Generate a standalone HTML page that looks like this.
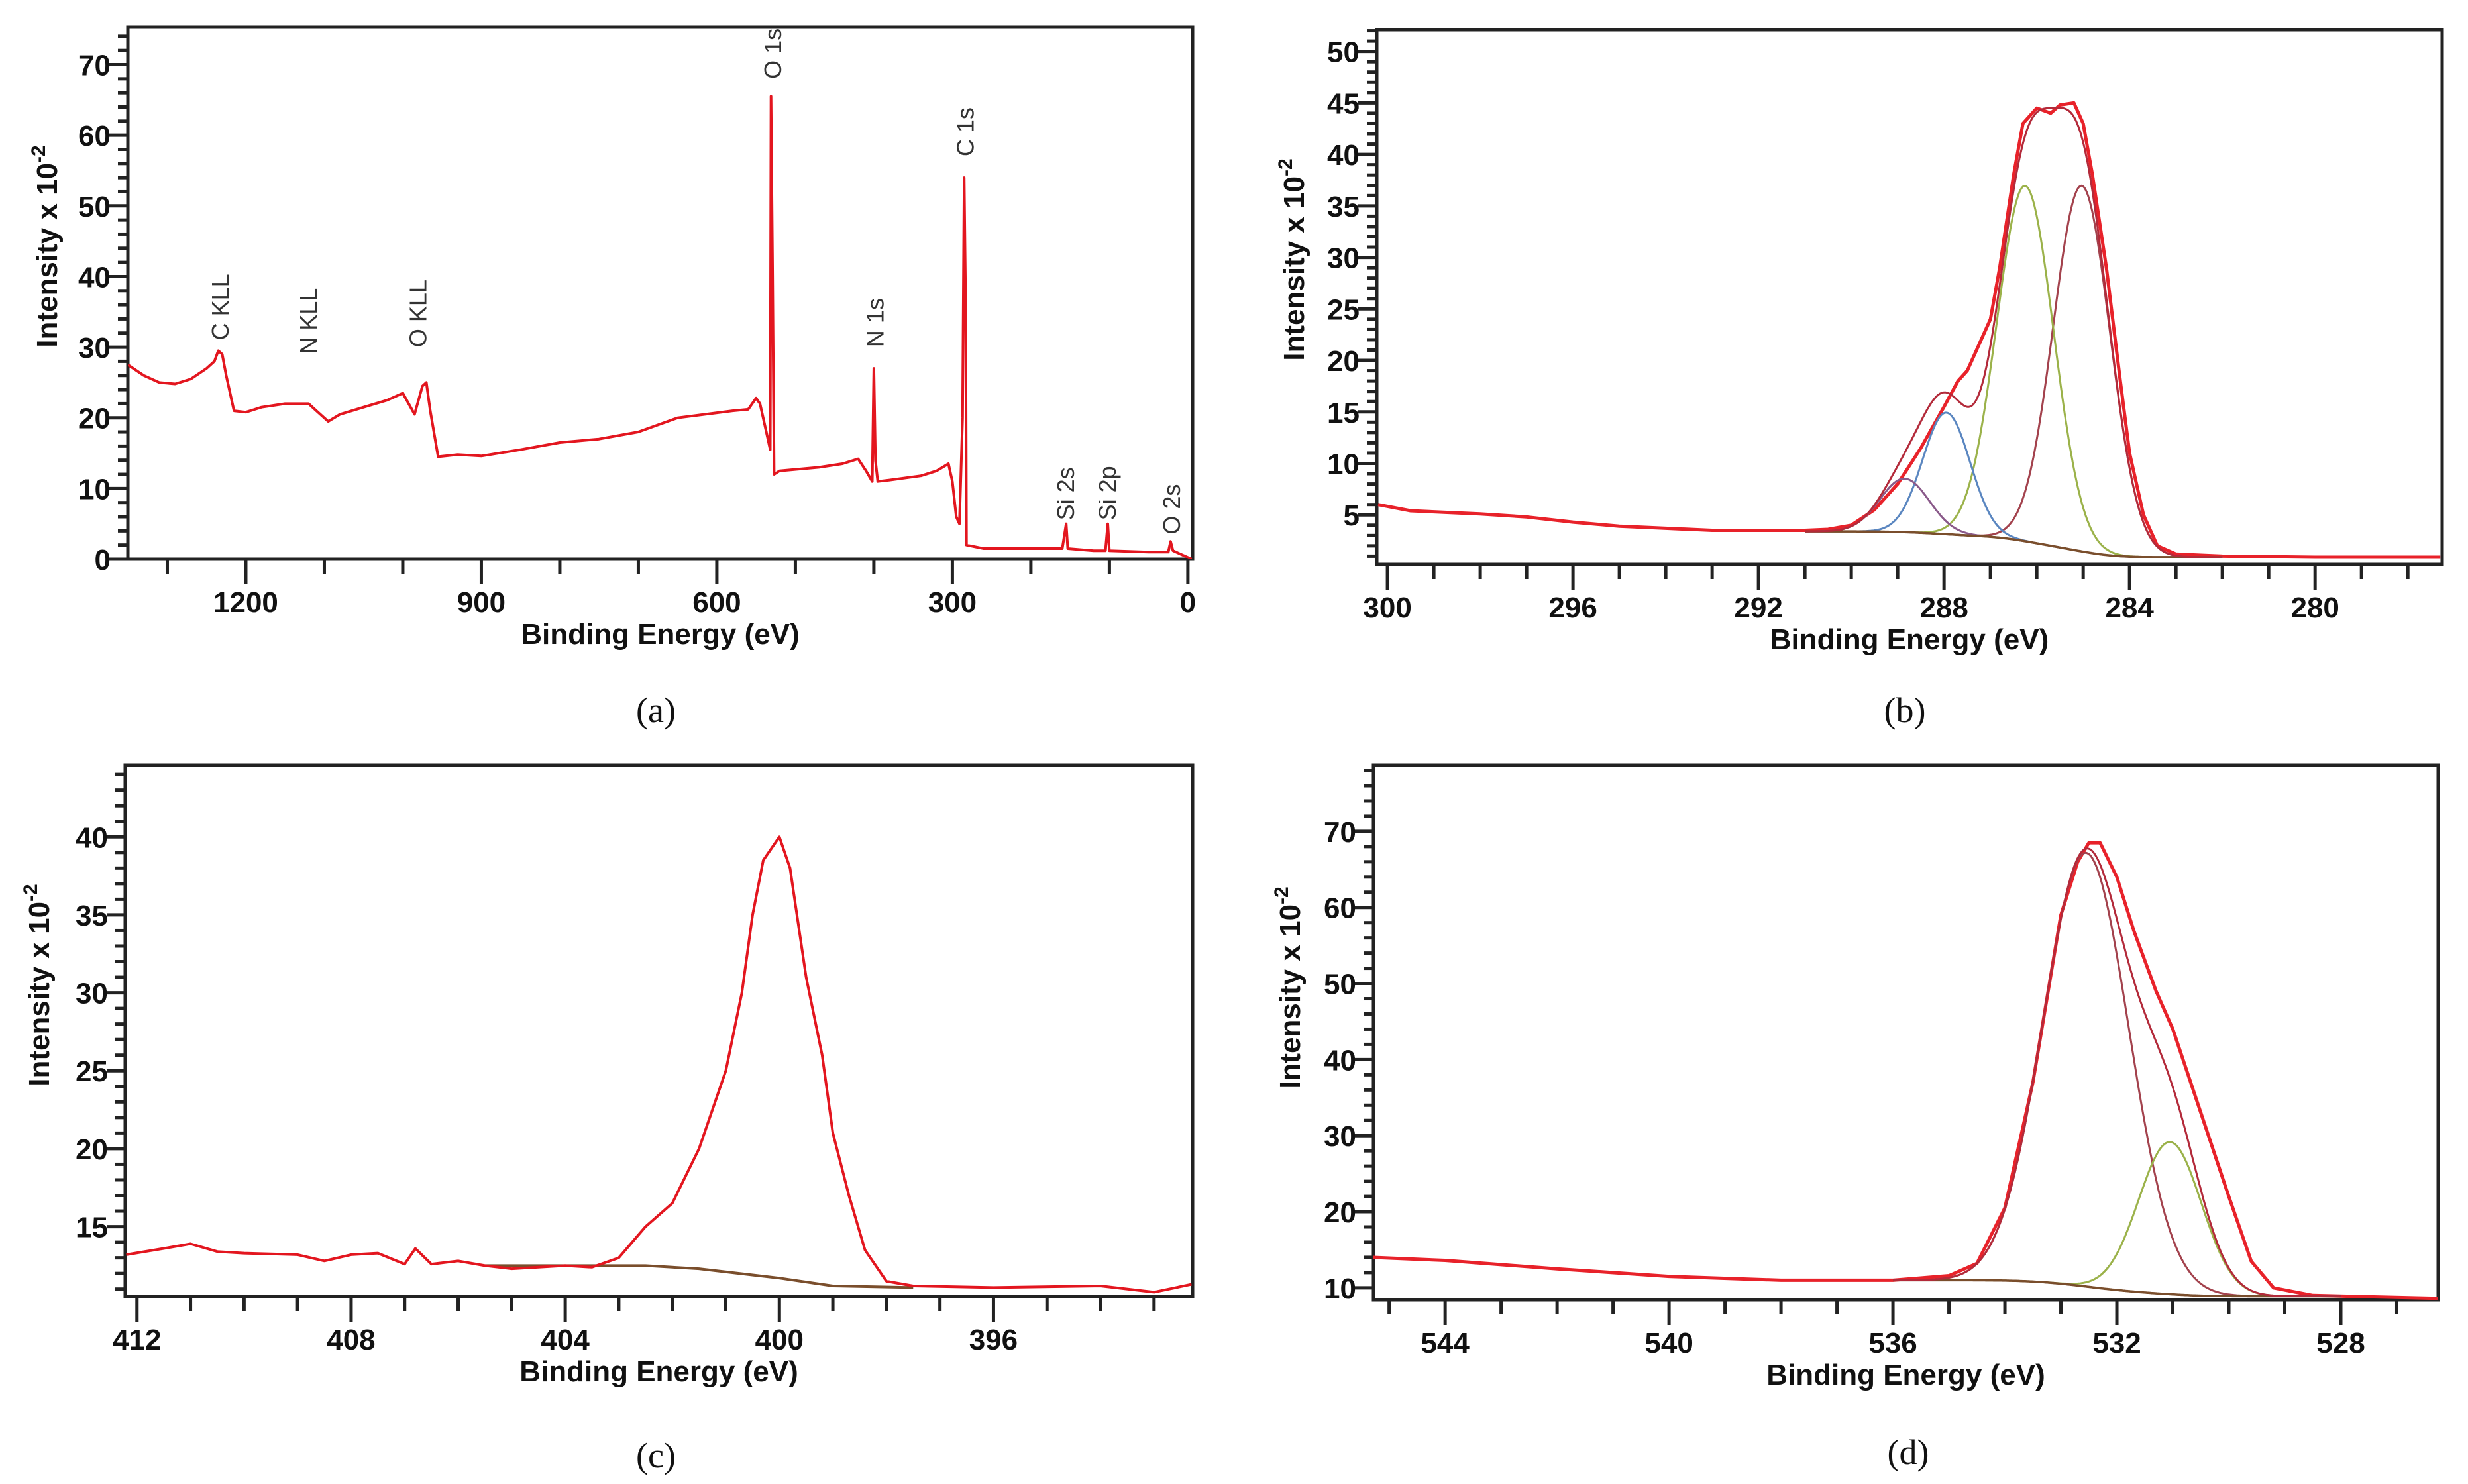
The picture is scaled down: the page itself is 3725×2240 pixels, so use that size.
<!DOCTYPE html>
<html><head><meta charset="utf-8">
<style>
html,body{margin:0;padding:0;background:#fff;}
svg{display:block;}
.tk{font-family:"Liberation Sans",Arial,sans-serif;font-weight:bold;font-size:44px;fill:#111;}
.tt{font-family:"Liberation Sans",Arial,sans-serif;font-weight:bold;font-size:44px;fill:#111;}
.an{font-family:"Liberation Sans",Arial,sans-serif;font-size:36px;fill:#333;}
.cap{font-family:"Liberation Serif","Times New Roman",serif;font-size:54px;fill:#111;}
</style></head>
<body>
<svg id="fig" width="3725" height="2240" viewBox="0 0 3725 2240" xmlns="http://www.w3.org/2000/svg"></svg>
<script>
// ===== Panel (a) survey spectrum data =====
const surveyBE = [1350,1330,1310,1290,1270,1250,1240,1235,1230,1225,1215,1200,1180,1150,1120,1110,1095,1080,1050,1020,1000,995,985,975,970,965,955,930,900,850,800,750,700,650,580,560,550,545,535,532,531,529,527,520,470,440,420,410,402,400,398,395,380,340,320,305,300,295,291,287,285,283,282,260,200,160,155,153,120,105,102,100,50,25,22,19,5,-5];
const surveyI  = [27.5,26,25,24.8,25.5,27,28,29.5,29,26,21,20.8,21.5,22,22,21,19.5,20.5,21.5,22.5,23.5,22.5,20.5,24.5,25,21,14.5,14.8,14.6,15.5,16.5,17,18,20,21,21.2,22.8,22,17,15.5,65.5,40,12,12.5,13,13.5,14.2,12.5,11,27,14,11,11.2,11.8,12.5,13.5,11,6,5,20,54,35,2,1.5,1.5,1.5,5,1.5,1.2,1.2,5,1.2,1,1,2.5,1.2,0.5,0];
const surveyLabels = ["C KLL","N KLL","O KLL","O 1s","N 1s","C 1s","Si 2s","Si 2p","O 2s"];
const surveyLabelBE = [1232,1120,980,528,398,283,155,102,20];
const surveyLabelI  = [31,29,30,68,30,57,5.5,5.5,3.5];

// ===== Panel (b) C 1s =====
const c1sBE = [300.2,299.5,298,297,296,295,294,293,292,291,290.5,290,289.5,289,288.5,288,287.7,287.5,287,286.8,286.5,286.3,286,285.7,285.5,285.2,285,284.8,284.5,284.2,284,283.7,283.4,283,282,280,277.3];
const c1sI  = [6,5.4,5.1,4.8,4.3,3.9,3.7,3.5,3.5,3.5,3.6,4,5.5,8,11.5,15.5,18,19,24,29,38,43,44.5,44,44.8,45,43,38,29,18,11,5,2,1.2,1,0.9,0.9];
const c1sCenters = [285.03,286.25,287.95,288.85];
const c1sHeights = [35.5,34.5,11.8,5.2];
const c1sFwhm    = [1.44,1.44,1.2,1.25];
const c1sBgHigh = 3.4, c1sBgLow = 0.9;

// ===== Panel (c) N 1s =====
const n1sBE = [412.2,411.5,411,410.5,410,409,408.5,408,407.5,407,406.8,406.5,406,405.5,405,404.5,404,403.5,403,402.5,402,401.5,401,400.7,400.5,400.3,400,399.8,399.5,399.2,399,398.7,398.4,398,397.5,396,394,393,392.3];
const n1sI  = [13.2,13.6,13.9,13.4,13.3,13.2,12.8,13.2,13.3,12.6,13.6,12.6,12.8,12.5,12.3,12.4,12.5,12.4,13,15,16.5,20,25,30,35,38.5,40,38,31,26,21,17,13.5,11.5,11.2,11.1,11.2,10.8,11.3];
const n1sBgBE = [405.5,402.5,401.5,400,399,397.5];
const n1sBgI  = [12.5,12.5,12.3,11.7,11.2,11.1];

// ===== Panel (d) O 1s =====
const o1sBE = [545.3,544,542,540,538,536,535,534.5,534,533.5,533,532.7,532.5,532.3,532,531.7,531.3,531,530.5,530,529.6,529.2,528.5,526.2];
const o1sI  = [14,13.6,12.5,11.5,11,11,11.6,13.2,20.5,37,59,66,68.5,68.5,64,57,49,44,33,22,13.5,10,9,8.6];
const o1sCenters = [532.55,531.05];
const o1sHeights = [57,20];
const o1sFwhm    = [1.8,1.32];
const o1sBgHigh = 11, o1sBgLow = 8.9;

const NS = "http://www.w3.org/2000/svg";
const fig = document.getElementById('fig');
function mk(tag, attrs, parent){ const e=document.createElementNS(NS,tag); for(const k in attrs) e.setAttribute(k,attrs[k]); (parent||fig).appendChild(e); return e; }

function makeAxes(p){
  const sx = v => p.L + (p.x0 - v)/(p.x0 - p.x1)*(p.R - p.L);
  const sy = v => p.B - (v - p.y0)/(p.y1 - p.y0)*(p.B - p.T);
  return {sx, sy};
}

function drawFrame(p, g){
  const {sx, sy} = makeAxes(p);
  const box = mk('rect',{x:p.L,y:p.T,width:p.R-p.L,height:p.B-p.T,fill:'none',stroke:'#222','stroke-width':5},g);
  
  
  const yStart = Math.ceil(p.y0/p.yMinor)*p.yMinor;
  for(let v=yStart; v<=p.y1+1e-9; v+=p.yMinor){
    const vv = Math.round(v*1000)/1000;
    const major = Math.abs(vv/p.yMajor - Math.round(vv/p.yMajor))<1e-6 && vv>=p.yLabelMin;
    const y = sy(vv);
    const t = mk('line',{x1:p.L,x2:p.L-(major?28:15),y1:y,y2:y,stroke:'#222','stroke-width':5},g);
    
    
    if(major){
      const tx = mk('text',{x:p.L-26,y:y+16,'text-anchor':'end',class:'tk'},g);
      tx.textContent = vv;
      
      
    }
  }
  const lo = Math.min(p.x0,p.x1), hi = Math.max(p.x0,p.x1);
  for(let v=Math.ceil(lo/p.xMinor)*p.xMinor; v<=hi+1e-9; v+=p.xMinor){
    const vv = Math.round(v*1000)/1000;
    const major = Math.abs(vv/p.xMajor - Math.round(vv/p.xMajor))<1e-6;
    const x = sx(vv);
    const t = mk('line',{x1:x,x2:x,y1:p.B,y2:p.B+(major?38:22),stroke:'#222','stroke-width':5},g);
    
    
    if(major){
      const tx = mk('text',{x:x,y:p.B+80,'text-anchor':'middle',class:'tk'},g);
      tx.textContent = vv;
      
      
    }
  }
  const xt = mk('text',{x:(p.L+p.R)/2,y:p.B+128,'text-anchor':'middle',class:'tt'},g);
  xt.textContent = 'Binding Energy (eV)';
  
  
  const yt = mk('text',{x:0,y:0,'text-anchor':'middle',class:'tt',transform:`translate(${p.ytx},${p.yty}) rotate(-90)`},g);
  yt.innerHTML = 'Intensity x 10<tspan dy="-18" font-size="30">-2</tspan>';
  
  
  const cp = mk('text',{x:p.capX,y:p.capY,'text-anchor':'middle',class:'cap'},g);
  cp.textContent = '('+p.id.slice(-1)+')';
  
  
  return {sx, sy};
}

function clipFor(p){
  const cid = 'clip-'+p.id;
  const defs = mk('defs',{});
  const c = mk('clipPath',{id:cid},defs);
  mk('rect',{x:p.L,y:p.T,width:p.R-p.L,height:p.B-p.T},c);
  return 'url(#'+cid+')';
}

function line(xs, ys, sx, sy, color, w, name, g, clip){
  const d = xs.map((x,i)=>(i?'L':'M')+sx(x).toFixed(1)+','+sy(ys[i]).toFixed(1)).join('');
  const e = mk('path',{d:d,fill:'none',stroke:color,'stroke-width':w,'stroke-linejoin':'round','clip-path':clip},g);
  
  
  return e;
}

function gauss(x,c,h,f){ return h*Math.exp(-4*Math.LN2*((x-c)/f)*((x-c)/f)); }
function fitModel(x0, x1, centers, heights, fwhm, bgHigh, bgLow){
  const n=400, xs=[], comps=centers.map(()=>[]), sum=[];
  for(let i=0;i<=n;i++){ const x = x1 + (x0-x1)*i/n; xs.push(x); let s=0;
    centers.forEach((c,k)=>{ const v=gauss(x,c,heights[k],fwhm[k]); comps[k].push(v); s+=v; }); sum.push(s); }
  const cum=[0]; for(let i=1;i<=n;i++) cum.push(cum[i-1]+sum[i]);
  const tot=cum[n]||1;
  const bg = cum.map(c=> bgLow + (bgHigh-bgLow)*c/tot);
  return {xs, comps, sum, bg};
}

// ---------- Panel a ----------
const pa = {id:'panel-a',L:193,R:1800,T:41,B:844,x0:1350.2,x1:-6,y0:0,y1:75.3,xMajor:300,xMinor:100,yMajor:10,yMinor:2,yLabelMin:0,ytx:86,yty:372,capX:990,capY:1090};
const ga = mk('g',{});  
const A = drawFrame(pa, ga);
line(surveyBE, surveyI, A.sx, A.sy, '#e3161f', 4, 'survey-spectrum-line', ga, clipFor(pa));
surveyLabels.forEach((s,i)=>{
  const x = A.sx(surveyLabelBE[i])+12, y = A.sy(surveyLabelI[i]);
  const t = mk('text',{x:0,y:0,class:'an',transform:`translate(${x},${y}) rotate(-90)`},ga);
  t.textContent = s;
  
  
});

// ---------- Panel b ----------
const pb = {id:'panel-b',L:2078,R:3686,T:45,B:852,x0:300.23,x1:277.26,y0:0.19,y1:52.1,xMajor:4,xMinor:1,yMajor:5,yMinor:1,yLabelMin:5,ytx:1968,yty:392,capX:2875,capY:1090};
const gb = mk('g',{});  
const B = drawFrame(pb, gb);
const clipB = clipFor(pb);
const mb = fitModel(291, 282, c1sCenters, c1sHeights, c1sFwhm, c1sBgHigh, c1sBgLow);
const compColors = ['#a3424d','#9bb24a','#5a86c0','#8a5a8a'];
const compNames = ['c1s-component-284','c1s-component-286','c1s-component-288','c1s-component-289'];
line(c1sBE, c1sI, B.sx, B.sy, '#e8222a', 5, 'c1s-raw-data', gb, clipB);
mb.comps.forEach((c,k)=>{ line(mb.xs, c.map((v,i)=>v+mb.bg[i]), B.sx, B.sy, compColors[k], 3, compNames[k], gb, clipB); });
line(mb.xs, mb.bg, B.sx, B.sy, '#7a4e2c', 3.5, 'c1s-background', gb, clipB);
line(mb.xs, mb.sum.map((v,i)=>v+mb.bg[i]), B.sx, B.sy, '#b32a3a', 3, 'c1s-envelope', gb, clipB);

// ---------- Panel c ----------
const pc = {id:'panel-c',L:189,R:1800,T:1155,B:1957,x0:412.22,x1:392.28,y0:10.52,y1:44.6,xMajor:4,xMinor:1,yMajor:5,yMinor:1,yLabelMin:15,ytx:74,yty:1487,capX:990,capY:2215};
const gc = mk('g',{});  
const Cc = drawFrame(pc, gc);
const clipC = clipFor(pc);
line(n1sBgBE, n1sBgI, Cc.sx, Cc.sy, '#7a4e2c', 4, 'n1s-background', gc, clipC);
line(n1sBE, n1sI, Cc.sx, Cc.sy, '#e3161f', 4, 'n1s-raw-data', gc, clipC);

// ---------- Panel d ----------
const pd = {id:'panel-d',L:2073,R:3680,T:1155,B:1962,x0:545.28,x1:526.26,y0:8.42,y1:78.7,xMajor:4,xMinor:1,yMajor:10,yMinor:2,yLabelMin:10,ytx:1962,yty:1491,capX:2880,capY:2210};
const gd = mk('g',{});  
const D = drawFrame(pd, gd);
const clipD = clipFor(pd);
const md = fitModel(536, 528, o1sCenters, o1sHeights, o1sFwhm, o1sBgHigh, o1sBgLow);
line(o1sBE, o1sI, D.sx, D.sy, '#e8222a', 5, 'o1s-raw-data', gd, clipD);
const oColors = ['#a3424d','#9bb24a'];
const oNames = ['o1s-component-532','o1s-component-531'];
md.comps.forEach((c,k)=>{ line(md.xs, c.map((v,i)=>v+md.bg[i]), D.sx, D.sy, oColors[k], 3, oNames[k], gd, clipD); });
line(md.xs, md.bg, D.sx, D.sy, '#7a4e2c', 3.5, 'o1s-background', gd, clipD);
line(md.xs, md.sum.map((v,i)=>v+md.bg[i]), D.sx, D.sy, '#b32a3a', 3, 'o1s-envelope', gd, clipD);
</script>
</body></html>
